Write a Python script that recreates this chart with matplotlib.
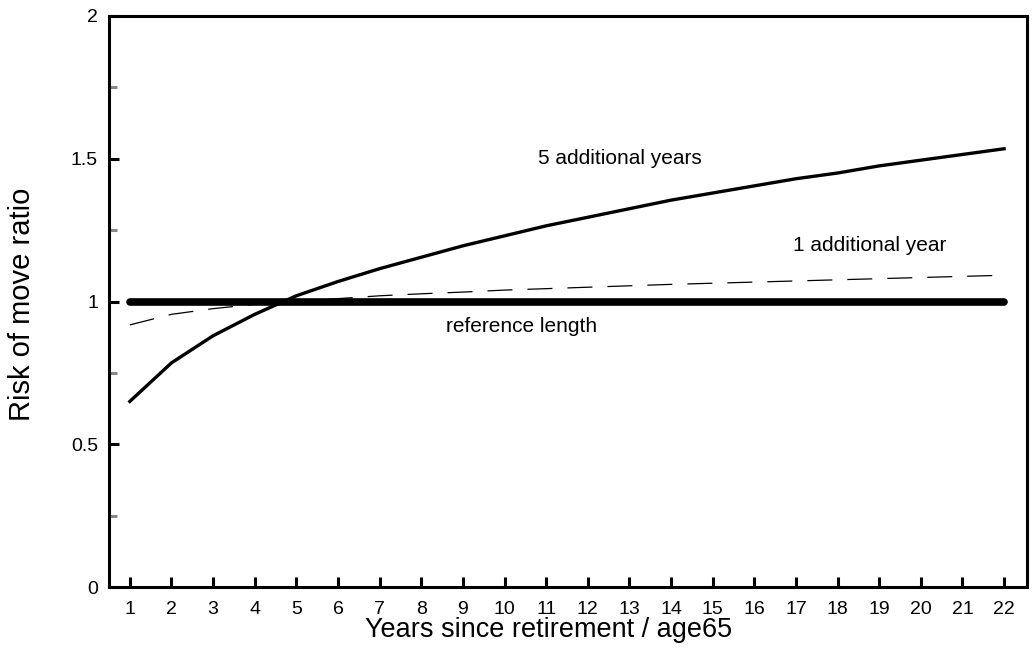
import matplotlib
matplotlib.use("Agg")
import matplotlib.pyplot as plt
from matplotlib.ticker import MultipleLocator

plt.rcParams['font.family'] = ['Liberation Sans', 'DejaVu Sans']

years = list(range(1, 23))
five_years = [0.65, 0.785, 0.88, 0.955, 1.02, 1.07, 1.115, 1.155, 1.195, 1.23, 1.265,
              1.295, 1.325, 1.355, 1.38, 1.405, 1.43, 1.45, 1.475, 1.495, 1.515, 1.535]
one_year = [0.918, 0.955, 0.975, 0.99, 1.0, 1.01, 1.02, 1.027, 1.033, 1.04, 1.045,
            1.05, 1.055, 1.06, 1.064, 1.068, 1.072, 1.076, 1.08, 1.084, 1.088, 1.092]
reference = [1.0] * 22

fig = plt.figure(figsize=(10.32, 6.5), dpi=100)
ax = fig.add_axes([109/1032, 1 - 587/650, (1027-109)/1032, (587-16)/650])

ax.plot(years, reference, color='black', lw=5.5, solid_capstyle='round', zorder=2)
ax.plot(years, one_year, color='black', lw=0.9, dashes=(20, 12), zorder=3)
ax.plot(years, five_years, color='black', lw=2.4, zorder=4)

ax.set_xlim(0.5, 22.55)
ax.set_ylim(0, 2)
ax.set_xticks(years)
ax.set_yticks([0, 0.5, 1, 1.5, 2])
ax.set_yticklabels(['0', '0.5', '1', '1.5', '2'])
ax.yaxis.set_minor_locator(MultipleLocator(0.25))

ax.tick_params(axis='both', which='major', direction='in', length=7, width=2.2,
               color='black', labelsize=14, pad=8)
ax.tick_params(axis='x', which='major', pad=10)
ax.tick_params(axis='y', which='minor', direction='in', length=6, width=2.2,
               color='#888888')
for s in ax.spines.values():
    s.set_linewidth(2.2)
    s.set_color('black')

ax.annotate('5 additional years', xy=(620/1032, 1 - 158/650), xycoords='figure fraction',
            ha='center', va='center', fontsize=15)
ax.annotate('1 additional year', xy=(870/1032, 1 - 246/650), xycoords='figure fraction',
            ha='center', va='center', fontsize=15)
ax.annotate('reference length', xy=(522/1032, 1 - 327/650), xycoords='figure fraction',
            ha='center', va='center', fontsize=15)

fig.text(549/1032, 1 - 637/650, 'Years since retirement / age65', fontsize=19.5,
         ha='center', va='baseline')
fig.text(22/1032, 1 - 304/650, 'Risk of move ratio', fontsize=21, rotation=90,
         ha='center', va='center')

fig.savefig('out.png', dpi=100)
